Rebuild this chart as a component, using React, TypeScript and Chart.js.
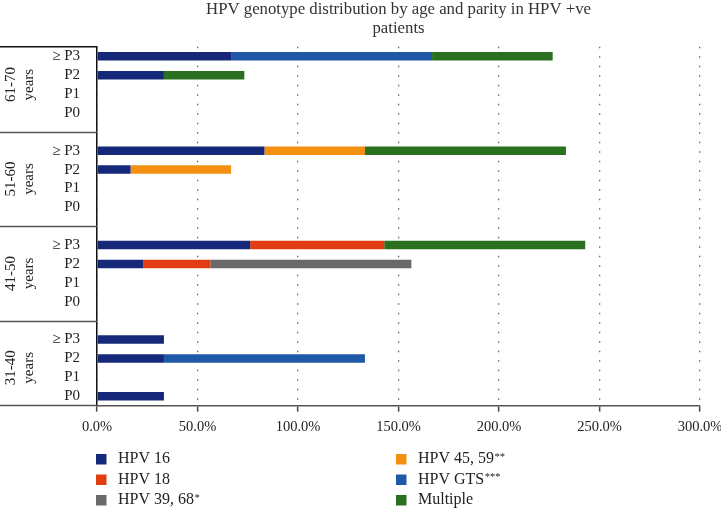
import React, { useEffect, useRef } from "react";
import { Chart, registerables } from "chart.js";

Chart.register(...registerables);

const titleLines = ["HPV genotype distribution by age and parity in HPV +ve", "patients"];
const ageGroups = ["61-70", "51-60", "41-50", "31-40"];
const groupWord = "years";
const rowLabels = [
  "≥ P3", "P2", "P1", "P0", "",
  "≥ P3", "P2", "P1", "P0", "",
  "≥ P3", "P2", "P1", "P0", "",
  "≥ P3", "P2", "P1", "P0",
];
const xTickStep = 50;
const xMax = 300;

const seriesNames = ["HPV 16", "HPV 18", "HPV 39, 68*", "HPV 45, 59**", "HPV GTS***", "Multiple"];
const seriesColors = ["#16287a", "#e23c12", "#696969", "#f39012", "#2058a8", "#2b7020"];

const hpv16 = [66.7, 33.3, null, null, null, 83.3, 16.7, null, null, null, 76.2, 23.1, null, null, null, 33.3, 33.3, null, 33.3];
const hpv18 = [null, null, null, null, null, null, null, null, null, null, 66.7, 33.3, null, null, null, null, null, null, null];
const hpv3968 = [null, null, null, null, null, null, null, null, null, null, null, 100, null, null, null, null, null, null, null];
const hpv4559 = [null, null, null, null, null, 50, 50, null, null, null, null, null, null, null, null, null, null, null, null];
const hpvGTS = [100, null, null, null, null, null, null, null, null, null, null, null, null, null, null, null, 100, null, null];
const multiple = [60, 40, null, null, null, 100, null, null, null, null, 100, null, null, null, null, null, null, null, null];

const seriesValues = [hpv16, hpv18, hpv3968, hpv4559, hpvGTS, multiple];

const FONT = '"Liberation Serif", "DejaVu Serif", serif';
const TEXT = "#222";

const decorPlugin = {
  id: "decor",
  afterDraw(chart: any) {
    const { ctx, chartArea, scales } = chart;
    const y = scales.y;
    const left = chartArea.left;
    ctx.save();
    const line = (x1: number, y1: number, x2: number, y2: number) => {
      ctx.beginPath();
      ctx.moveTo(x1, y1);
      ctx.lineTo(x2, y2);
      ctx.stroke();
    };
    ctx.lineWidth = 1.5;
    ctx.strokeStyle = "#111";
    line(0, chartArea.top, left, chartArea.top);
    ctx.strokeStyle = "#555";
    for (let g = 1; g < ageGroups.length; g++) {
      const yy = Math.round(y.getPixelForValue(g * 5 - 1)) + 0.5;
      line(0, yy, left, yy);
    }
    line(0, chartArea.bottom, left, chartArea.bottom);

    ctx.fillStyle = TEXT;
    ctx.font = `15px ${FONT}`;
    ctx.textAlign = "center";
    ctx.textBaseline = "middle";
    for (let g = 0; g < ageGroups.length; g++) {
      const cy = (y.getPixelForValue(g * 5) + y.getPixelForValue(g * 5 + 3)) / 2;
      ctx.save();
      ctx.translate(11, cy);
      ctx.rotate(-Math.PI / 2);
      ctx.fillText(ageGroups[g], 0, 0);
      ctx.restore();
      ctx.save();
      ctx.translate(29.5, cy);
      ctx.rotate(-Math.PI / 2);
      ctx.fillText(groupWord, 0, 0);
      ctx.restore();
    }

    // legend, two columns of three
    const ds = chart.data.datasets;
    const colX = [96, 396];
    const rowY0 = chart.height - 51;
    ctx.textAlign = "left";
    for (let i = 0; i < ds.length; i++) {
      const col = Math.floor(i / 3);
      const row = i % 3;
      const x = colX[col];
      const cy = rowY0 + row * 20.5;
      ctx.fillStyle = ds[i].backgroundColor;
      ctx.fillRect(x, cy - 5, 10.5, 10.5);
      const label: string = ds[i].label;
      const star = label.indexOf("*");
      const main = star >= 0 ? label.slice(0, star) : label;
      const stars = star >= 0 ? label.slice(star) : "";
      ctx.fillStyle = TEXT;
      ctx.font = `16px ${FONT}`;
      ctx.textBaseline = "middle";
      ctx.fillText(main, x + 22, cy);
      if (stars) {
        const w = ctx.measureText(main).width;
        ctx.font = `10.5px ${FONT}`;
        ctx.fillText(stars, x + 22 + w + 0.5, cy - 2);
      }
    }
    ctx.restore();
  },
};

export default function App() {
  const ref = useRef<HTMLCanvasElement>(null);
  useEffect(() => {
    const chart = new Chart(ref.current as HTMLCanvasElement, {
      type: "bar",
      data: {
        labels: rowLabels,
        datasets: seriesNames.map((name, i) => ({
          label: name,
          data: seriesValues[i] as any,
          backgroundColor: seriesColors[i],
          borderWidth: 0,
          barPercentage: 0.45,
          categoryPercentage: 1,
        })),
      },
      options: {
        indexAxis: "y",
        responsive: false,
        animation: false,
        layout: { padding: { top: 0, right: 21, bottom: 67, left: 0 } },
        plugins: {
          legend: { display: false },
          tooltip: { enabled: false },
          title: {
            display: true,
            fullSize: false,
            text: titleLines,
            color: "#333",
            font: { family: FONT, size: 16.75, weight: "normal", lineHeight: 1.13 },
            padding: { top: 0, bottom: 9 },
          },
        },
        scales: {
          x: {
            type: "linear",
            stacked: true,
            min: 0,
            max: xMax,
            afterFit: (scale: any) => {
              scale.paddingRight = 0;
            },
            ticks: {
              stepSize: xTickStep,
              callback: (v: any) => Number(v).toFixed(1) + "%",
              color: TEXT,
              font: { family: FONT, size: 14.5 },
              padding: 7,
            },
            grid: {
              color: "#666",
              lineWidth: 1.3,
              drawTicks: true,
              tickLength: 6,
              tickColor: "#444",
              tickWidth: 1.5,
            },
            border: { display: true, color: "#555", width: 1.5, dash: [1.3, 8.2] },
          },
          y: {
            type: "category",
            stacked: true,
            afterFit: (scale: any) => {
              scale.width = 97;
            },
            ticks: {
              color: TEXT,
              font: { family: FONT, size: 15 },
              padding: 9,
              autoSkip: false,
            },
            grid: { display: false },
            border: { display: true, color: "#111", width: 1.5 },
          },
        },
      },
      plugins: [decorPlugin],
    } as any);
    return () => chart.destroy();
  }, []);
  return (
    <div style={{ position: "fixed", left: 0, top: 0, width: 721, height: 510, background: "#fff" }}>
      <canvas ref={ref} width={721} height={510} style={{ width: 721, height: 510, display: "block" }} />
    </div>
  );
}
